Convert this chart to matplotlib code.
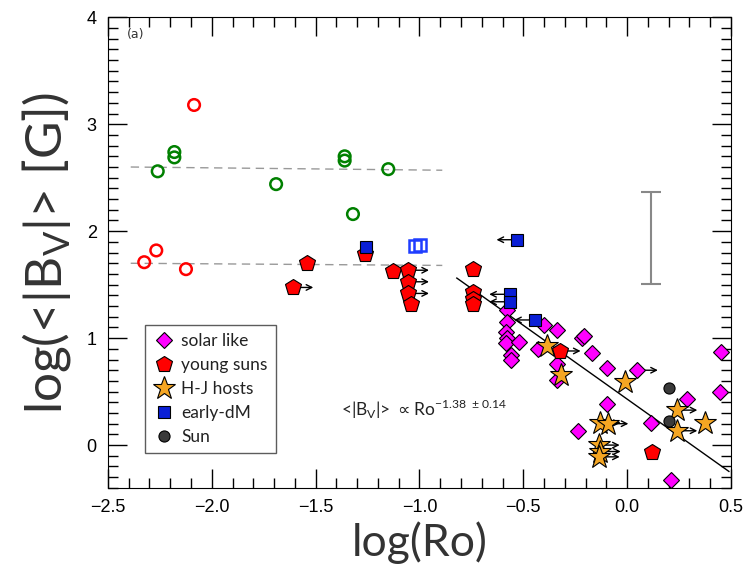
import matplotlib
matplotlib.use('Agg')
import matplotlib.pyplot as plt
import numpy as np
from matplotlib.ticker import MultipleLocator

# open circles (upper: green, lower/extra: red)
green_open_x = [-2.26, -2.18, -2.18, -1.69, -1.36, -1.36, -1.15, -1.32]
green_open_y = [2.56, 2.74, 2.69, 2.44, 2.70, 2.66, 2.58, 2.16]
red_open_x = [-2.085, -2.325, -2.267, -2.124]
red_open_y = [3.18, 1.71, 1.82, 1.645]

# solar like (magenta diamonds); arrow: +1 right, -1 left, 0 none
solar_x = [-0.578, -0.58, -0.584, -0.578, -0.584, -0.523, -0.56, -0.56, -0.401, -0.337,
           -0.219, -0.208, -0.431, -0.337, -0.34, -0.171, -0.099, 0.048, -0.099, -0.236,
           0.117, 0.286, 0.209, 0.451, 0.447]
solar_y = [1.26, 1.15, 1.06, 1.0, 0.95, 0.96, 0.84, 0.795, 1.12, 1.08,
           1.0, 1.02, 0.894, 0.76, 0.61, 0.857, 0.717, 0.70, 0.383, 0.134,
           0.203, 0.427, -0.327, 0.872, 0.493]
solar_arr = [0, 0, 0, 0, 0, 0, 0, 0, 0, 0,
             0, 0, 0, 0, 0, 0, 0, 1, 0, 0,
             0, 0, 0, 1, 1]

# young suns (red pentagons)
young_x = [-1.54, -1.611, -1.263, -1.126, -1.054, -1.054, -1.054, -1.041,
           -0.741, -0.741, -0.741, -0.741, -0.324, 0.122]
young_y = [1.707, 1.474, 1.785, 1.63, 1.635, 1.527, 1.418, 1.315,
           1.65, 1.43, 1.37, 1.32, 0.88, -0.06]
young_arr = [0, 1, 0, 0, 1, 1, 1, 0,
             0, 0, 0, 0, 1, 0]

# hot-Jupiter hosts (orange stars)
hj_x = [-0.388, -0.316, -0.011, -0.131, -0.094, -0.136, -0.131, -0.136, 0.238, 0.238, 0.374]
hj_y = [0.925, 0.654, 0.59, 0.209, 0.2, 0.0, -0.06, -0.11, 0.327, 0.134, 0.209]
hj_arr = [0, 0, 0, 1, 1, 1, 1, 1, 1, 1, 0]

# early-dM (blue squares)
dm_x = [-1.258, -0.529, -0.564, -0.564, -0.444]
dm_y = [1.85, 1.92, 1.41, 1.34, 1.17]
dm_arr = [0, -1, -1, -1, -1]
dm_open_x = [-1.022, -0.995]
dm_open_y = [1.86, 1.875]

# Sun
sun_x = [0.203, 0.2]
sun_y = [0.53, 0.224]

# fits and reference lines
slope, icpt = -1.38, 0.43
fit_x = [-0.82, 0.49]
sat_x = [-2.39, -0.89]
sat_hi_y = [2.60, 2.57]
sat_lo_y = [1.70, 1.68]
err_x, err_y, err_half = 0.114, 1.94, 0.43

ARROW_LEN = 0.10


def add_arrows(ax, xs, ys, flags, lw=1.0):
    for x, y, f in zip(xs, ys, flags):
        if f == 0:
            continue
        ax.annotate('', xy=(x + f * ARROW_LEN, y), xytext=(x, y),
                    arrowprops=dict(arrowstyle='->', color='k', lw=lw,
                                    shrinkA=0, shrinkB=0),
                    zorder=2)


fig = plt.figure(figsize=(7.44, 5.76), dpi=100)
ax = fig.add_axes([0.145, 0.153, 0.8375, 0.817])

ax.plot(sat_x, sat_hi_y, ls=(0, (6, 4)), color='#999999', lw=1.0, zorder=1)
ax.plot(sat_x, sat_lo_y, ls=(0, (6, 4)), color='#999999', lw=1.0, zorder=1)
fx = np.array(fit_x)
ax.plot(fx, icpt + slope * fx, color='k', lw=1.0, zorder=1)
ax.errorbar([err_x], [err_y], yerr=[err_half], fmt='none', ecolor='#888888',
            elinewidth=1.5, capsize=7, capthick=1.5)

ax.scatter(green_open_x, green_open_y, s=70, facecolors='none', edgecolors='green',
           linewidths=1.8, zorder=3)
ax.scatter(red_open_x, red_open_y, s=70, facecolors='none', edgecolors='red',
           linewidths=1.8, zorder=3)

add_arrows(ax, solar_x, solar_y, solar_arr)
add_arrows(ax, young_x, young_y, young_arr)
add_arrows(ax, hj_x, hj_y, hj_arr)
add_arrows(ax, dm_x, dm_y, dm_arr)

mk = dict(ls='none', markeredgecolor='k', markeredgewidth=0.8, zorder=4)
ax.plot(solar_x, solar_y, marker='D', ms=8, color='#ff00ff', label='solar like', **mk)
ax.plot(young_x, young_y, marker='p', ms=12, color='red', label='young suns', **mk)
ax.plot(hj_x, hj_y, marker='*', ms=17, color='#f5a623', label='H-J hosts', **mk)
ax.plot(dm_x, dm_y, marker='s', ms=8, color='#0a1fd6', label='early-dM', **mk)
ax.plot(sun_x, sun_y, marker='o', ms=8, color='#3a3a3a', label='Sun', **mk)
ax.plot(dm_open_x, dm_open_y, ls='none', marker='s', ms=8, mfc='none',
        mec='#1f3dff', mew=1.8, zorder=4)

ax.text(-0.98, 0.33, r'<|B$_\mathregular{V}$|> $\propto$Ro$^{\mathregular{-1.38\ \pm0.14}}$',
        ha='center', va='center', fontsize=12.5, family='Lato', color='#222222')
ax.text(0.03, 0.955, '(a)', transform=ax.transAxes, fontsize=9, color='#333333')

ax.set_xlim(-2.5, 0.5)
ax.set_ylim(-0.4, 4.0)
ax.xaxis.set_major_locator(MultipleLocator(0.5))
ax.xaxis.set_minor_locator(MultipleLocator(0.1))
ax.yaxis.set_major_locator(MultipleLocator(1))
ax.yaxis.set_minor_locator(MultipleLocator(0.1))
ax.tick_params(which='both', direction='in', top=True, right=True)
ax.tick_params(which='major', length=14, width=1.0, labelsize=13, pad=8)
ax.tick_params(which='minor', length=7, width=1.0)
for lab in ax.get_xticklabels() + ax.get_yticklabels():
    lab.set_family('Liberation Sans')
ax.xaxis.set_major_formatter(plt.FuncFormatter(lambda v, p: f'{v:.1f}'.replace('-', '\u2212')))
ax.yaxis.set_major_formatter(plt.FuncFormatter(lambda v, p: f'{v:.0f}'))

ax.set_xlabel('log(Ro)', fontsize=32, family='Lato', color='#333333', labelpad=4)
ax.set_ylabel(r'log(<|B$_\mathregular{V}$|> [G])', fontsize=37, family='Lato',
              color='#333333', labelpad=10)

leg = ax.legend(loc='lower left', bbox_to_anchor=(0.045, 0.055), frameon=True,
                fancybox=False, edgecolor='#333333', handletextpad=0.4,
                borderpad=0.5, labelspacing=0.45, handlelength=1.2,
                prop={'family': 'Lato', 'size': 12.5})
leg.get_frame().set_linewidth(1.0)
for t in leg.get_texts():
    t.set_color('#222222')

fig.savefig('out.png', dpi=100)
